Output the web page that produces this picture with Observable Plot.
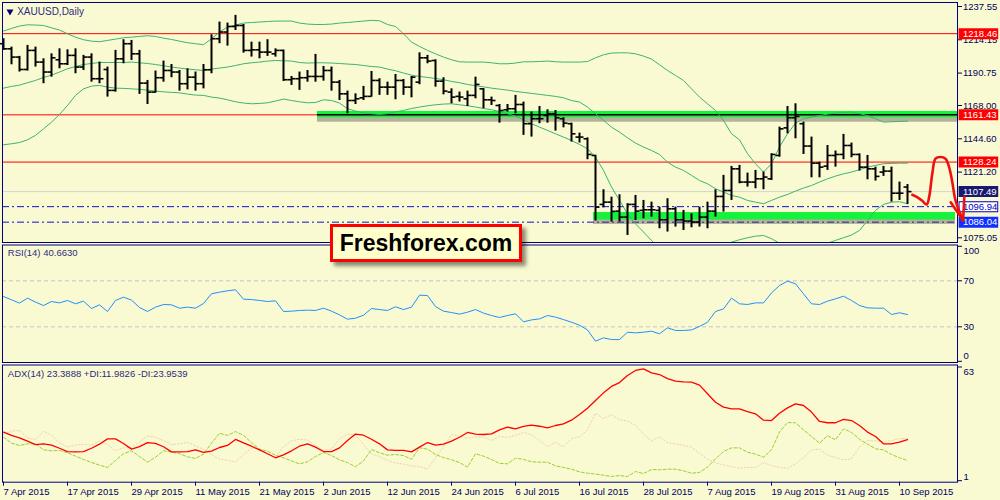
<!DOCTYPE html>
<html>
<head>
<meta charset="utf-8">
<script src="https://cdn.jsdelivr.net/npm/d3@7"></script>
<script src="https://cdn.jsdelivr.net/npm/@observablehq/plot@0.6"></script>
<style>
html, body { margin: 0; padding: 0; background: #fafad2; }
#wrap { position: relative; width: 1000px; height: 500px; overflow: hidden; background: #fafad2; }
#wrap svg { display: block; }
#brand { position: absolute; left: 330px; top: 224px; width: 186px; height: 32px; border: 3px solid #ff0000;
  background: #ffffcc; box-shadow: 4px 4px 4px rgba(0,0,0,0.45); color: #000;
  font: bold 23px "Liberation Sans", Arial, sans-serif; text-align: center; line-height: 32px; }
</style>
</head>
<body>
<div id="wrap"></div>
<script>
// ---------- DATA (daily XAUUSD bars, 7 Apr 2015 .. 11 Sep 2015, bar index 0..113) ----------
const dateTickIndex = [0, 8, 16, 24, 32, 40, 48, 56, 64, 72, 80, 88, 96, 104, 112];
const dateLabels = ["7 Apr 2015", "17 Apr 2015", "29 Apr 2015", "11 May 2015", "21 May 2015", "2 Jun 2015",
  "12 Jun 2015", "24 Jun 2015", "6 Jul 2015", "16 Jul 2015", "28 Jul 2015", "7 Aug 2015", "19 Aug 2015",
  "31 Aug 2015", "10 Sep 2015"];

const open = [1211.4,1207.8,1202.0,1193.3,1206.7,1198.5,1191.5,1200.1,1197.3,1203.2,
 1195.0,1202.0,1186.8,1193.3,1178.6,1200.8,1211.4,1204.3,1183.7,1177.4,
 1187.5,1192.6,1191.5,1183.3,1187.9,1183.3,1193.1,1214.9,1219.6,1223.5,
 1224.2,1206.7,1207.1,1205.5,1204.3,1206.7,1186.1,1186.8,1187.5,1188.4,
 1188.4,1192.6,1184.4,1176.2,1171.5,1173.4,1174.4,1185.6,1180.9,1180.9,
 1185.6,1180.9,1184.4,1201.5,1199.6,1185.1,1177.4,1174.4,1172.7,1175.1,
 1179.7,1172.0,1168.0,1165.0,1165.7,1168.7,1155.2,1158.7,1161.0,1162.2,
 1158.7,1155.2,1145.8,1144.6,1132.9,1098.5,1100.1,1093.8,1089.6,1098.5,
 1094.3,1094.7,1094.3,1087.7,1095.4,1087.7,1086.8,1086.1,1089.6,1093.8,
 1104.1,1108.3,1123.5,1114.2,1114.2,1116.5,1116.5,1132.9,1152.3,1159.4,
 1155.2,1139.5,1127.5,1125.4,1132.9,1133.6,1139.9,1133.6,1124.7,1123.5,
 1121.2,1121.9,1106.4,1110.7];
const high = [1214.9,1209.0,1202.5,1210.2,1209.0,1200.8,1204.3,1207.8,1207.1,1207.8,
 1203.2,1204.3,1198.5,1195.0,1206.7,1214.2,1213.7,1206.7,1185.6,1192.2,
 1199.2,1196.8,1192.6,1193.8,1191.5,1196.8,1217.7,1226.6,1225.9,1231.3,
 1224.9,1212.5,1212.5,1214.2,1207.8,1206.9,1188.4,1191.5,1192.6,1203.9,
 1195.4,1195.0,1185.6,1178.1,1176.2,1181.4,1191.9,1186.8,1184.4,1189.8,
 1186.3,1188.4,1205.0,1203.2,1200.1,1187.5,1179.7,1177.4,1178.1,1187.9,
 1179.9,1173.9,1168.7,1168.7,1175.1,1170.4,1163.4,1167.3,1165.0,1164.5,
 1159.4,1155.6,1148.6,1145.3,1133.0,1108.8,1103.6,1105.3,1099.0,1104.8,
 1101.3,1100.1,1096.6,1102.5,1096.6,1094.3,1091.9,1096.6,1100.1,1108.8,
 1118.9,1125.2,1125.9,1120.5,1122.4,1121.2,1134.1,1152.8,1167.3,1169.2,
 1156.3,1145.8,1128.2,1139.9,1136.0,1147.7,1141.6,1134.0,1132.9,1124.7,
 1125.2,1124.7,1114.2,1112.5];
const low = [1206.7,1196.6,1191.5,1192.2,1195.0,1183.3,1187.9,1193.8,1196.1,1190.3,
 1192.6,1184.4,1183.3,1173.9,1177.4,1197.3,1199.6,1175.8,1168.7,1176.7,
 1184.4,1187.5,1178.1,1179.0,1178.1,1179.7,1190.3,1211.4,1209.7,1220.7,
 1204.8,1202.0,1200.8,1202.5,1202.0,1184.9,1182.1,1178.6,1184.4,1184.4,
 1185.1,1178.1,1171.5,1162.2,1168.7,1171.5,1173.9,1175.1,1175.1,1172.0,
 1175.1,1173.4,1182.6,1197.3,1180.9,1175.5,1169.2,1170.4,1167.3,1172.7,
 1165.7,1168.0,1155.6,1163.4,1162.2,1147.0,1145.8,1155.2,1155.6,1150.0,
 1152.3,1142.3,1141.6,1129.9,1086.8,1096.1,1086.1,1086.1,1076.7,1087.2,
 1088.4,1089.6,1081.4,1079.1,1082.6,1080.2,1082.1,1082.6,1081.4,1089.6,
 1093.1,1101.3,1113.0,1110.7,1109.5,1108.8,1115.3,1131.7,1148.1,1144.6,
 1133.6,1117.2,1117.2,1122.4,1124.7,1129.9,1131.3,1121.9,1115.8,1114.9,
 1118.2,1100.1,1101.3,1098.5];
const close = [1207.8,1202.0,1193.3,1206.7,1198.5,1191.5,1201.5,1197.3,1203.2,1195.0,
 1202.0,1186.8,1186.8,1178.6,1200.8,1211.4,1204.3,1183.7,1177.4,1187.5,
 1192.6,1191.5,1183.3,1187.9,1183.3,1193.1,1214.9,1219.6,1223.5,1224.2,
 1206.7,1207.1,1205.5,1205.5,1206.7,1186.1,1186.8,1187.5,1188.4,1188.4,
 1192.6,1184.4,1176.2,1171.5,1172.7,1174.4,1185.6,1180.9,1180.9,1185.6,
 1180.9,1187.9,1201.5,1199.2,1185.1,1178.1,1173.9,1173.9,1175.1,1182.8,
 1172.0,1171.5,1164.5,1165.7,1168.7,1155.2,1158.7,1158.7,1162.2,1159.4,
 1155.6,1148.1,1145.8,1133.6,1096.6,1100.1,1093.6,1089.6,1098.5,1093.8,
 1094.7,1094.7,1087.7,1095.4,1087.7,1086.8,1086.1,1089.6,1093.8,1104.1,
 1108.3,1123.5,1114.2,1114.2,1116.5,1117.7,1133.6,1151.6,1159.4,1160.3,
 1139.5,1127.5,1124.7,1132.9,1133.6,1139.9,1133.6,1124.7,1123.5,1118.2,
 1121.9,1106.4,1106.4,1107.49];

const bbUpper = [1220.3,1222.1,1223.8,1224.7,1224.5,1224.2,1222.6,1221.0,1218.4,1216.0,
 1214.2,1213.2,1212.8,1213.7,1214.6,1215.6,1216.0,1216.5,1217.0,1216.5,
 1215.3,1214.4,1213.2,1212.1,1211.4,1210.7,1214.9,1219.6,1223.1,1224.5,
 1225.9,1226.3,1226.6,1227.0,1227.3,1227.3,1227.3,1225.9,1225.2,1224.9,
 1224.9,1225.2,1225.9,1226.3,1226.8,1227.3,1227.8,1227.5,1224.9,1223.5,
 1218.4,1212.5,1209.5,1206.7,1204.3,1202.0,1200.1,1198.7,1198.5,1198.5,
 1198.5,1198.0,1197.3,1197.3,1197.8,1198.7,1198.7,1198.9,1199.2,1198.7,
 1198.5,1198.5,1198.5,1198.9,1201.5,1203.6,1204.8,1205.0,1205.0,1204.3,
 1202.7,1200.6,1196.6,1192.6,1189.1,1185.6,1179.7,1173.9,1169.2,1164.5,
 1157.5,1148.1,1143.9,1134.1,1127.1,1121.2,1127.1,1138.8,1148.1,1155.6,
 1158.7,1159.8,1161.0,1161.9,1162.7,1163.1,1163.4,1162.2,1161.0,1158.7,
 1156.3,1156.6,1156.8,1157.0];
const bbMiddle = [1180.2,1181.4,1182.3,1184.0,1185.6,1187.7,1189.3,1191.5,1193.8,1195.4,
 1196.8,1197.5,1198.2,1198.2,1198.2,1198.2,1198.5,1198.0,1197.5,1196.8,
 1195.9,1195.0,1194.3,1193.6,1193.1,1192.6,1193.6,1194.3,1195.0,1196.1,
 1197.3,1198.0,1198.5,1199.2,1199.6,1199.4,1199.2,1198.2,1197.8,1198.0,
 1198.0,1197.8,1197.5,1197.1,1196.8,1196.1,1195.4,1195.0,1193.6,1192.4,
 1190.8,1189.3,1188.4,1187.7,1187.0,1186.1,1184.9,1184.0,1182.8,1181.9,
 1181.1,1180.2,1179.5,1178.8,1177.9,1177.2,1176.5,1175.8,1175.1,1174.4,
 1173.4,1171.5,1170.4,1166.9,1162.2,1157.5,1152.8,1149.3,1145.3,1141.6,
 1138.8,1136.4,1133.6,1128.2,1124.7,1122.4,1118.9,1115.3,1113.0,1109.5,
 1107.2,1104.8,1103.6,1101.3,1100.1,1099.0,1101.3,1103.6,1105.5,1107.9,
 1110.0,1111.8,1114.2,1116.5,1118.4,1120.0,1121.2,1122.9,1124.7,1125.9,
 1127.1,1127.3,1127.5,1127.5];
const bbLower = [1140.4,1141.1,1142.0,1143.9,1147.0,1151.6,1156.3,1161.7,1168.0,1175.1,
 1179.7,1181.6,1182.1,1180.9,1180.2,1180.0,1179.7,1179.3,1178.8,1178.1,
 1177.6,1177.2,1176.9,1176.0,1175.3,1175.1,1173.9,1173.2,1172.0,1170.6,
 1169.7,1169.2,1169.4,1169.9,1171.1,1172.5,1171.5,1170.6,1169.9,1170.1,
 1172.0,1171.5,1169.7,1165.7,1164.1,1162.9,1162.2,1161.7,1162.2,1163.6,
 1164.5,1165.9,1166.9,1167.8,1168.5,1169.0,1169.2,1168.5,1167.8,1166.9,
 1165.9,1165.0,1163.8,1162.2,1160.5,1158.0,1155.2,1152.8,1150.5,1148.1,
 1145.8,1143.4,1140.6,1137.6,1131.7,1122.4,1110.7,1101.3,1091.9,1084.9,
 1079.1,1073.2,1067.3,1062.7,1059.1,1056.8,1056.8,1059.1,1062.7,1066.2,
 1069.7,1072.0,1073.7,1075.1,1076.2,1076.7,1074.4,1071.3,1068.5,1066.6,
 1065.7,1066.2,1068.0,1071.3,1073.2,1075.1,1077.0,1080.2,1087.2,1094.3,
 1098.5,1100.1,1100.4,1099.0];

const rsi = [56.3,53.5,50.6,54.9,51.5,48.5,52.0,50.8,52.9,50.0,
 52.3,45.9,49.1,43.3,52.9,55.8,53.2,46.8,43.3,47.1,
 49.4,49.1,46.2,47.1,46.2,50.3,58.7,60.1,61.3,62.2,
 54.0,53.7,52.9,52.0,52.6,43.3,43.6,44.2,44.5,44.2,
 46.2,43.6,40.4,36.6,37.5,40.1,45.9,45.0,44.2,47.4,
 45.0,47.1,57.5,57.2,47.6,43.6,42.4,41.0,42.7,45.0,
 41.9,39.8,38.1,39.8,41.3,34.3,36.0,36.9,39.8,38.4,
 36.3,34.0,31.4,27.3,17.5,20.4,18.9,18.9,25.3,24.7,
 25.3,26.2,23.9,29.1,26.8,26.8,27.3,30.3,34.0,43.3,
 45.6,54.9,50.0,49.4,50.8,50.8,59.5,65.9,69.7,67.4,
 58.7,50.0,49.4,52.3,54.3,56.6,52.9,48.5,46.5,46.2,
 46.2,40.7,42.2,40.663];

const adx = [27.5,25.7,24.4,22.6,20.7,21.1,20.4,18.7,16.9,16.7,
 16.9,18.7,20.9,23.8,23.8,21.3,18.2,19.6,21.8,21.3,
 19.5,16.7,16.7,16.9,17.8,16.4,17.1,19.1,20.2,23.5,
 21.6,19.8,17.8,15.7,13.5,15.1,17.3,19.8,21.1,19.3,
 16.9,16.9,18.9,22.9,26.4,25.8,23.6,21.1,17.8,17.5,
 17.5,16.7,19.3,21.8,20.4,20.9,22.6,24.7,27.3,26.4,
 26.2,26.5,28.7,30.2,29.3,30.6,31.3,30.7,29.8,31.1,
 32.0,34.0,37.1,40.5,44.7,48.9,52.4,54.5,58.4,61.1,
 62.0,59.8,58.9,56.7,55.3,54.9,54.7,53.1,48.4,43.8,
 41.1,40.2,40.2,38.7,37.5,34.0,33.8,37.8,40.7,42.9,
 42.0,38.4,33.3,32.6,32.6,34.4,33.8,31.1,27.5,25.1,
 21.1,21.1,22.0,23.3888];
const plusDI = [24.7,21.5,20.2,21.1,21.1,17.8,17.3,17.5,16.2,14.4,
 12.6,10.9,9.5,8.2,12.0,15.8,17.3,14.2,11.1,13.8,
 17.3,16.6,15.7,14.0,13.1,15.5,21.5,26.9,25.7,27.8,
 25.7,21.8,18.2,17.1,14.9,13.5,11.8,10.2,11.3,14.2,
 16.4,14.7,12.4,10.9,8.6,11.8,18.0,16.2,14.9,15.3,
 14.7,12.7,18.9,18.2,15.3,13.6,12.4,10.9,8.4,15.7,
 14.4,12.6,10.4,10.2,13.3,12.6,11.3,11.1,11.1,9.1,
 8.2,7.3,5.8,5.1,4.6,4.0,3.3,3.8,3.3,6.0,
 4.9,7.1,6.9,7.3,7.3,6.4,5.1,5.5,8.4,12.9,
 16.9,18.9,18.9,16.5,15.5,13.8,17.8,27.5,32.7,32.6,
 28.7,25.1,21.5,25.5,23.3,29.3,27.3,23.6,20.9,18.4,
 17.8,15.3,13.5,11.9826];
const minusDI = [26.2,28.0,28.4,24.4,23.5,28.0,25.7,21.7,19.3,20.4,
 20.9,20.4,22.6,20.7,17.3,18.9,19.1,22.0,25.3,24.7,
 22.9,20.7,21.1,22.0,20.0,18.2,15.3,12.7,12.2,11.1,
 15.3,18.7,18.4,15.5,13.8,19.5,22.7,23.6,23.1,20.2,
 17.5,18.4,23.8,26.5,25.8,20.7,15.5,14.2,12.0,10.7,
 10.0,9.1,8.7,7.3,13.5,19.6,26.2,25.1,24.2,24.9,
 24.7,22.9,25.1,24.6,25.7,27.3,26.2,22.9,19.6,22.0,
 19.5,24.0,24.9,28.7,37.8,34.9,36.9,34.2,33.5,31.1,
 26.4,22.6,24.9,21.7,21.1,20.2,19.3,16.0,12.7,10.7,
 9.6,8.7,7.8,8.2,8.2,10.9,9.3,8.2,7.7,10.2,
 13.5,17.8,18.2,14.9,13.6,12.4,12.9,19.3,22.9,22.7,
 22.2,22.9,24.0,23.9539];

// price-axis ticks and horizontal levels
const priceTicks = [1237.55, 1214.15, 1190.75, 1168.00, 1144.60, 1121.20, 1075.05];
const redLevels = [1218.46, 1161.43, 1128.24];
const currentPrice = 1107.49;
const blueLevels = [1096.94, 1086.04];
const labelLevels = [1218.46, 1161.43, 1128.24, 1107.49, 1096.94, 1086.04];
// green support/resistance zones (bar-index extent and price band)
const zoneStart = [39.25, 73.75];
const zoneEnd = [119.25, 119.0];
const zoneLow = [1159.4, 1087.6];
const zoneHigh = [1163.8, 1092.8];
// hand-drawn forecast arrow (bar index, price)
const arrowIndex = [113.6, 114.2, 114.8, 115.4, 115.7, 116.1, 116.5, 117.1, 117.75, 118.2, 118.6, 119.0, 119.6, 119.95];
const arrowPrice = [1105.3, 1103.6, 1101.3, 1098.5, 1103.6, 1120.0, 1130.6, 1131.8, 1130.6, 1124.7, 1114.1, 1101.3, 1091.9, 1087.2];
const arrowHeadIndex = [118.4, 120.1];
const arrowHeadPrice = [1100.0, 1103.6];
// indicator axis ticks / levels
const rsiLevels = [70, 30];
const rsiTicks = [100, 70, 30, 0];
const adxTicks = [63, 1];

// ---------- DRAWING ----------
const navy = "#000080";
const axisInk = "#00005a";
const titleInk = "#2b2b83";
const font = "'Liberation Sans', Arial, sans-serif";
const xDomain = [-0.125, 119.25];
const xEnd = xDomain[1];
const base = {
  width: 1000, marginLeft: 2, marginRight: 43,
  style: {background: "#fafad2", color: axisInk, fontFamily: font, fontSize: "9.5px", overflow: "visible"}
};
const idx = d3.range(open.length);
const zones = d3.range(zoneStart.length);
const labelBg = ["#ff0000", "#ff0000", "#ff0000", "#191970", "#ffffff", "#1030ff"];
const labelInk = ["#ffffff", "#ffffff", "#ffffff", "#ffffff", "#0000c0", "#ffffff"];
const arrowPts = d3.range(arrowIndex.length);
const lastPt = arrowIndex.length - 1;

const pricePlot = Plot.plot({
  ...base, height: 244, marginTop: 2, marginBottom: 2,
  x: {domain: xDomain, axis: null},
  y: {domain: [1071.75, 1240.35]},
  color: {type: "identity"},
  marks: [
    Plot.ruleY(redLevels, {stroke: "#ff0000", strokeWidth: 1}),
    Plot.ruleY([currentPrice], {stroke: "#d4d4d4", strokeWidth: 1}),
    Plot.ruleY(blueLevels, {stroke: "#1010d0", strokeWidth: 1, strokeDasharray: "7,3,2,3"}),
    Plot.rect(zones, {x1: i => zoneStart[i], x2: i => zoneEnd[i], y1: i => zoneLow[i], y2: i => zoneHigh[i],
      fill: "#404040", fillOpacity: 0.38, dy: 4.5, ariaLabel: "shadow"}),
    Plot.rect(zones, {x1: i => zoneStart[i], x2: i => zoneEnd[i], y1: i => zoneLow[i], y2: i => zoneHigh[i],
      fill: "#14f23c"}),
    Plot.ruleY([redLevels[1]], {x1: zoneStart[0], x2: zoneEnd[0], stroke: "#000000", strokeWidth: 1.5}),
    Plot.line(bbUpper, {x: (d, i) => i, y: d => d, stroke: "#3cb371", strokeWidth: 1, clip: true}),
    Plot.line(bbMiddle, {x: (d, i) => i, y: d => d, stroke: "#3cb371", strokeWidth: 1, clip: true}),
    Plot.line(bbLower, {x: (d, i) => i, y: d => d, stroke: "#3cb371", strokeWidth: 1, clip: true}),
    Plot.ruleX(idx, {x: i => i, y1: i => low[i], y2: i => high[i], stroke: "#000", strokeWidth: 2}),
    Plot.link(idx, {x1: i => i - 0.5, x2: i => i, y1: i => open[i], y2: i => open[i], stroke: "#000", strokeWidth: 1.6}),
    Plot.link(idx, {x1: i => i, x2: i => i + 0.5, y1: i => close[i], y2: i => close[i], stroke: "#000", strokeWidth: 1.6}),
    Plot.frame({stroke: navy}),
    Plot.axisY(priceTicks, {anchor: "right", tickSize: 4, tickPadding: 1.5, tickFormat: d => d.toFixed(2)}),
    Plot.ruleY(labelLevels, {y: d => d, x1: xEnd + 0.2, x2: xEnd + 5.15, stroke: (d, i) => i === 4 ? "#0000c0" : labelBg[i], strokeWidth: 11}),
    Plot.ruleY(labelLevels, {y: d => d, x1: xEnd + 0.32, x2: xEnd + 5.03, stroke: (d, i) => labelBg[i], strokeWidth: 9}),
    Plot.text(labelLevels, {y: d => d, x: xEnd, dx: 5.5, textAnchor: "start", text: d => d.toFixed(2), fill: (d, i) => labelInk[i]}),
    Plot.line(arrowPts, {x: i => arrowIndex[i], y: i => arrowPrice[i], curve: "catmull-rom", stroke: "#505050",
      strokeOpacity: 0.5, strokeWidth: 3, dx: 2, dy: 2, ariaLabel: "shadow"}),
    Plot.line(arrowPts, {x: i => arrowIndex[i], y: i => arrowPrice[i], curve: "catmull-rom", stroke: "#ee1111", strokeWidth: 2.6}),
    Plot.link([0, 1], {x1: i => arrowHeadIndex[i], y1: i => arrowHeadPrice[i], x2: arrowIndex[lastPt], y2: arrowPrice[lastPt],
      stroke: "#ee1111", strokeWidth: 2.6, strokeLinecap: "round"}),
    Plot.dot([0], {frameAnchor: "top-left", dx: 7.5, dy: 9, symbol: "triangle", rotate: 180, r: 2.6, fill: navy, stroke: "none"}),
    Plot.text(["XAUUSD,Daily"], {frameAnchor: "top-left", dx: 14.7, dy: 9, lineAnchor: "middle", textAnchor: "start", fill: titleInk, fontSize: 10})
  ]
});

const rsiPlot = Plot.plot({
  ...base, height: 120, marginTop: 0.5, marginBottom: 2,
  x: {domain: xDomain, axis: null},
  y: {domain: [-1.04, 101.13]},
  marks: [
    Plot.ruleY(rsiLevels, {stroke: "#c4c4c4", strokeDasharray: "4,3"}),
    Plot.line(rsi, {x: (d, i) => i, y: d => d, stroke: "#1e90ff", strokeWidth: 1}),
    Plot.frame({stroke: navy}),
    Plot.axisY(rsiTicks, {anchor: "right", tickSize: 4, tickFormat: () => ""}),
    Plot.text([rsiTicks[0]], {y: d => d, x: xEnd, dx: 6, dy: 5, textAnchor: "start", text: d => String(d)}),
    Plot.text(rsiLevels, {y: d => d, x: xEnd, dx: 6, textAnchor: "start", text: d => String(d)}),
    Plot.text([rsiTicks[3]], {y: d => d, x: xEnd, dx: 6, dy: -5, textAnchor: "start", text: d => String(d)}),
    Plot.text(["RSI(14) 40.6630"], {frameAnchor: "top-left", dx: 5.3, dy: 7.8, lineAnchor: "middle", textAnchor: "start", fill: titleInk})
  ]
});

const adxPlot = Plot.plot({
  ...base, height: 136, marginTop: 0.5, marginBottom: 18.3,
  x: {domain: xDomain},
  y: {domain: [0.18, 64.09]},
  marks: [
    Plot.line(minusDI, {x: (d, i) => i, y: d => d, stroke: "#f0d2b0", strokeWidth: 1, strokeDasharray: "1.5,2"}),
    Plot.line(plusDI, {x: (d, i) => i, y: d => d, stroke: "#9acd32", strokeWidth: 1, strokeDasharray: "3,2"}),
    Plot.line(adx, {x: (d, i) => i, y: d => d, stroke: "#ff0000", strokeWidth: 1.3}),
    Plot.frame({stroke: navy}),
    Plot.axisY(adxTicks, {anchor: "right", tickSize: 4, tickFormat: () => ""}),
    Plot.text([adxTicks[0]], {y: d => d, x: xEnd, dx: 6, dy: 5, textAnchor: "start", text: d => String(d)}),
    Plot.text([adxTicks[1]], {y: d => d, x: xEnd, dx: 6, dy: -4, textAnchor: "start", text: d => String(d)}),
    Plot.axisX(dateTickIndex, {anchor: "bottom", tickSize: 4, tickPadding: 2, textAnchor: "start",
      tickFormat: d => dateLabels[dateTickIndex.indexOf(d)], stroke: navy}),
    Plot.text(["ADX(14) 23.3888 +DI:11.9826 -DI:23.9539"], {frameAnchor: "top-left", dx: 5.3, dy: 8.8, lineAnchor: "middle", textAnchor: "start", fill: titleInk})
  ]
});

function addShadowFilter(svg, id, sd) {
  const s = d3.select(svg);
  s.insert("defs", ":first-child").html(
    `<filter id="${id}" x="-20%" y="-100%" width="140%" height="300%"><feGaussianBlur stdDeviation="${sd}"/></filter>`);
  s.selectAll('[aria-label="shadow"]').attr("filter", `url(#${id})`);
}
addShadowFilter(pricePlot, "softShadow", 2);

const wrap = document.getElementById("wrap");
wrap.appendChild(pricePlot);
wrap.appendChild(rsiPlot);
wrap.appendChild(adxPlot);
const brand = document.createElement("div");
brand.id = "brand";
brand.textContent = "Freshforex.com";
wrap.appendChild(brand);
</script>
</body>
</html>
